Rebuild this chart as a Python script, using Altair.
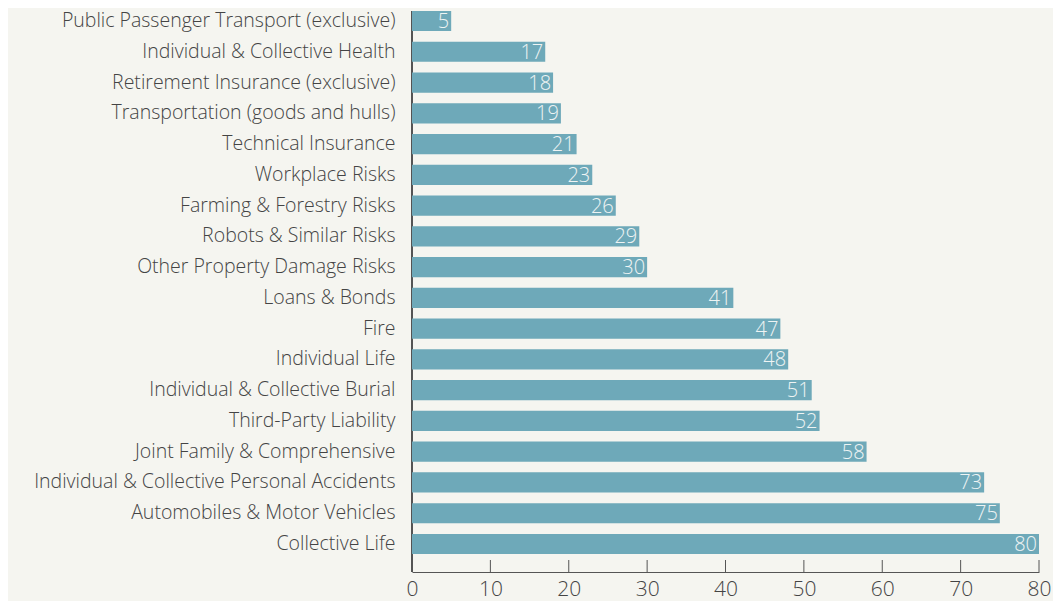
import altair as alt
import pandas as pd

categories = [
    "Public Passenger Transport (exclusive)",
    "Individual & Collective Health",
    "Retirement Insurance (exclusive)",
    "Transportation  (goods and  hulls)",
    "Technical Insurance",
    "Workplace Risks",
    "Farming & Forestry Risks",
    "Robots & Similar Risks",
    "Other Property Damage Risks",
    "Loans & Bonds",
    "Fire",
    "Individual Life",
    "Individual & Collective Burial",
    "Third-Party Liability",
    "Joint Family & Comprehensive",
    "Individual & Collective Personal Accidents",
    "Automobiles & Motor Vehicles",
    "Collective Life",
]
values = [5, 17, 18, 19, 21, 23, 26, 29, 30, 41, 47, 48, 51, 52, 58, 73, 75, 80]
tick_values = [0, 10, 20, 30, 40, 50, 60, 70, 80]

df = pd.DataFrame({"category": categories, "value": values})
ticks_df = pd.DataFrame({"t": tick_values})

FONT = "Open Sans"
BAR = "#6ea9b9"
BG = "#f5f5f0"
W, H = 627, 543

xscale = alt.Scale(domain=[0, 80], nice=False, zero=True)
yscale = alt.Scale(domain=categories, paddingInner=0.346, paddingOuter=0)

vline = alt.Chart(df).mark_rule(color="#555555", strokeWidth=1).encode(
    x=alt.value(0), y=alt.value(0), y2=alt.value(H + 18)
)

bars = alt.Chart(df).mark_bar(color=BAR).encode(
    x=alt.X("value:Q", scale=xscale,
            axis=alt.Axis(values=tick_values, title=None, offset=18, tickSize=0,
                          domainColor="#555555", labelFont=FONT, labelFontSize=21,
                          labelFontWeight=300, labelColor="#444444", labelPadding=6,
                          labelBaseline="top", labelFlush=False, labelOverlap=False,
                          grid=False)),
    y=alt.Y("category:N", sort=None, scale=yscale,
            axis=alt.Axis(title=None, domain=False, ticks=False, labelFont=FONT,
                          labelFontSize=19.5, labelFontWeight=300, labelColor="#444444",
                          labelPadding=17, labelLimit=420)),
)

labels = alt.Chart(df).mark_text(
    align="right", baseline="middle", dx=-2, dy=1, color="#eef4f4",
    font=FONT, fontSize=20, fontWeight=300
).encode(
    x=alt.X("value:Q", scale=xscale),
    y=alt.Y("category:N", sort=None, scale=yscale),
    text=alt.Text("value:Q"),
)

tickmarks = alt.Chart(ticks_df).mark_rule(color="#555555", strokeWidth=1).encode(
    x=alt.X("t:Q", scale=xscale),
    y=alt.value(H + 6),
    y2=alt.value(H + 18),
)

chart = alt.layer(vline, bars, labels, tickmarks).properties(
    width=W, height=H,
    background=BG,
    padding={"left": 404, "top": 3, "right": 14, "bottom": 47},
    autosize=alt.AutoSizeParams(type="none"),
).configure_view(stroke=None)

chart.save("out.html", embed_options={"renderer": "svg", "actions": False})
